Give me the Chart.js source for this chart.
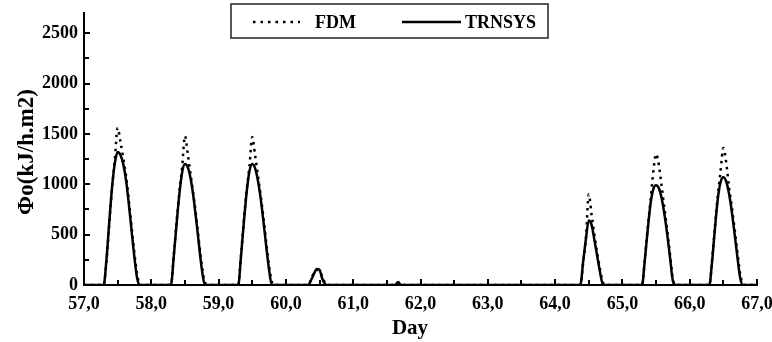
<!DOCTYPE html>
<html>
<head>
<meta charset="utf-8">
<script src="https://cdn.jsdelivr.net/npm/chart.js@4"></script>
<style>
    html, body { margin: 0; padding: 0; background: #fff; }
    #wrap { width: 772px; height: 342px; }
</style>
</head>
<body>
<div id="wrap"><canvas id="chart" width="772" height="342"></canvas></div>
<script>
// Data: hourly values (kJ/h.m2), hours 7..20 of each day
const days = [57, 58, 59, 60, 61, 62, 63, 64, 65, 66];
const hours = [7, 8, 9, 10, 11, 12, 13, 14, 15, 16, 17, 18, 19, 20];

const trnsysValues = [
    [0, 250, 620, 970, 1210, 1320, 1290, 1200, 1040, 800, 530, 270, 60, 0],
    [0, 280, 600, 900, 1120, 1200, 1170, 1060, 880, 650, 400, 160, 10, 0],
    [0, 290, 620, 920, 1130, 1200, 1160, 1040, 860, 630, 380, 150, 0, 0],
    [0, 0, 50, 110, 160, 150, 60, 10, 0, 0, 0, 0, 0, 0],
    [0, 0, 0, 0, 0, 0, 0, 0, 0, 30, 0, 0, 0, 0],
    [0, 0, 0, 0, 0, 0, 0, 0, 0, 0, 0, 0, 0, 0],
    [0, 0, 0, 0, 0, 0, 0, 0, 0, 0, 0, 0, 0, 0],
    [0, 0, 0, 230, 460, 640, 600, 450, 290, 130, 10, 0, 0, 0],
    [0, 250, 540, 800, 950, 990, 960, 860, 700, 500, 270, 40, 0, 0],
    [0, 240, 560, 850, 1020, 1070, 1030, 910, 730, 510, 280, 70, 0, 0],
];

const fdmValues = [
    [0, 230, 600, 960, 1250, 1560, 1420, 1260, 1080, 840, 570, 310, 100, 0],
    [0, 290, 620, 920, 1170, 1480, 1300, 1100, 900, 680, 430, 200, 40, 0],
    [0, 300, 640, 940, 1180, 1470, 1290, 1090, 890, 670, 420, 190, 30, 0],
    [0, 0, 60, 120, 150, 140, 80, 20, 0, 0, 0, 0, 0, 0],
    [0, 0, 0, 0, 0, 0, 0, 0, 0, 25, 0, 0, 0, 0],
    [0, 0, 0, 0, 0, 0, 0, 0, 0, 0, 0, 0, 0, 0],
    [0, 0, 0, 0, 0, 0, 0, 0, 0, 0, 0, 0, 0, 0],
    [0, 0, 0, 220, 470, 900, 700, 500, 320, 160, 30, 0, 0, 0],
    [0, 260, 560, 830, 1120, 1300, 1190, 980, 760, 540, 300, 60, 0, 0],
    [0, 250, 580, 880, 1130, 1360, 1220, 980, 780, 560, 330, 110, 10, 0],
];

const xMin = 57, xMax = 67;
const yMax = 2700;
const yTickValues = [0, 250, 500, 750, 1000, 1250, 1500, 1750, 2000, 2250, 2500];
const yLabelTicks = [0, 500, 1000, 1500, 2000, 2500];

const FONT = "'Liberation Serif', 'Times New Roman', serif";

function buildPoints(rows) {
    const pts = [{ x: xMin, y: 0 }];
    days.forEach((d, i) => {
        hours.forEach((h, j) => pts.push({ x: d + h / 24, y: rows[i][j] }));
    });
    pts.push({ x: xMax, y: 0 });
    return pts;
}

// inward tick marks, axis titles and the boxed legend
const decorPlugin = {
    id: 'decor',
    afterDraw(chart) {
        const { ctx, chartArea: a, scales: { x, y } } = chart;
        ctx.save();
        ctx.strokeStyle = '#000';
        ctx.lineWidth = 2;
        ctx.beginPath();
        x.ticks.forEach(t => {
            if (t.value <= xMin) return;
            const px = Math.round(x.getPixelForValue(t.value));
            const len = Number.isInteger(t.value) ? 6 : 5;
            ctx.moveTo(px, a.bottom);
            ctx.lineTo(px, a.bottom - len);
        });
        y.ticks.forEach(t => {
            if (t.value <= 0) return;
            const py = Math.round(y.getPixelForValue(t.value));
            const len = t.value % 500 === 0 ? 6 : 5;
            ctx.moveTo(a.left, py);
            ctx.lineTo(a.left + len, py);
        });
        ctx.stroke();

        // axis titles
        ctx.fillStyle = '#000';
        ctx.font = `bold 21px ${FONT}`;
        ctx.textAlign = 'center';
        ctx.textBaseline = 'middle';
        ctx.fillText('Day', 410, 329);
        ctx.font = `bold 23px ${FONT}`;
        ctx.translate(27, 152);
        ctx.rotate(-Math.PI / 2);
        ctx.fillText('Φo(kJ/h.m2)', 0, 0);
        ctx.restore();

        // legend
        ctx.save();
        ctx.fillStyle = '#fff';
        ctx.fillRect(231, 4, 317, 34);
        ctx.strokeStyle = '#222';
        ctx.lineWidth = 1.5;
        ctx.strokeRect(231, 4, 317, 34);
        ctx.strokeStyle = '#000';
        ctx.lineWidth = 2.5;
        ctx.setLineDash([2.5, 5]);
        ctx.beginPath(); ctx.moveTo(253, 22); ctx.lineTo(300, 22); ctx.stroke();
        ctx.setLineDash([]);
        ctx.beginPath(); ctx.moveTo(402, 22); ctx.lineTo(461, 22); ctx.stroke();
        ctx.fillStyle = '#000';
        ctx.font = `bold 18px ${FONT}`;
        ctx.textBaseline = 'middle';
        ctx.fillText('FDM', 315, 23);
        ctx.fillText('TRNSYS', 465, 23);
        ctx.restore();
    },
};

new Chart(document.getElementById('chart'), {
    type: 'line',
    data: {
        datasets: [
            {
                label: 'FDM',
                data: buildPoints(fdmValues),
                borderColor: '#000',
                borderWidth: 2.5,
                borderDash: [2.5, 4.5],
                pointRadius: 0,
                cubicInterpolationMode: 'monotone',
                fill: false,
            },
            {
                label: 'TRNSYS',
                data: buildPoints(trnsysValues),
                borderColor: '#000',
                borderWidth: 2.5,
                pointRadius: 0,
                cubicInterpolationMode: 'monotone',
                fill: false,
            },
        ],
    },
    options: {
        responsive: false,
        animation: false,
        layout: { padding: { top: 13, right: 15, left: 0, bottom: 0 } },
        plugins: {
            legend: { display: false },
            tooltip: { enabled: false },
        },
        scales: {
            x: {
                type: 'linear',
                min: xMin,
                max: xMax,
                grid: { display: false, drawTicks: false, tickLength: 0 },
                border: { display: true, color: '#000', width: 2 },
                ticks: {
                    stepSize: 0.5,
                    autoSkip: false,
                    maxRotation: 0,
                    padding: 9,
                    color: '#000',
                    font: { family: FONT, size: 18, weight: 'bold' },
                    callback: v => Number.isInteger(v) ? v.toFixed(1).replace('.', ',') : '',
                },
                afterFit(scale) {
                    scale.height = 57;
                    scale.paddingLeft = 0;
                    scale.paddingRight = 0;
                },
            },
            y: {
                min: 0,
                max: yMax,
                grid: { display: false, drawTicks: false, tickLength: 0 },
                border: { display: true, color: '#000', width: 2 },
                afterBuildTicks(scale) {
                    scale.ticks = yTickValues.map(v => ({ value: v }));
                },
                ticks: {
                    autoSkip: false,
                    padding: 6,
                    color: '#000',
                    font: { family: FONT, size: 18, weight: 'bold' },
                    callback: v => yLabelTicks.includes(v) ? String(v) : '',
                },
                afterFit(scale) {
                    scale.width = 84;
                    scale.paddingTop = 0;
                    scale.paddingBottom = 0;
                },
            },
        },
    },
    plugins: [decorPlugin],
});
</script>
</body>
</html>
